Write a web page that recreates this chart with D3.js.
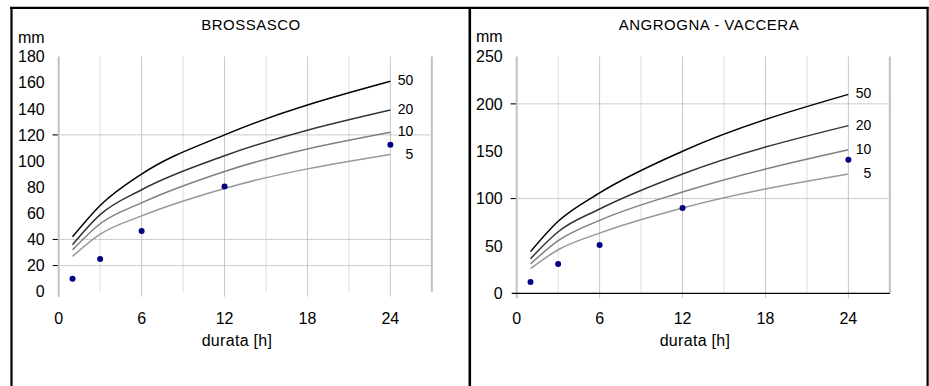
<!DOCTYPE html>
<html>
<head>
<meta charset="utf-8">
<script src="https://cdn.jsdelivr.net/npm/d3@7"></script>
<style>
  body { margin: 0; background: #fff; }
  svg { display: block; font-family: "Liberation Sans", Arial, sans-serif; }
</style>
</head>
<body>
<div id="chart"></div>
<script>
// durations [h]
const durations = [1, 3, 6, 12, 24];
const returnPeriods = ["50", "20", "10", "5"];
const xTicks = [0, 6, 12, 18, 24];

// BROSSASCO
const brossascoCurves = {
  "50": [42, 66, 90, 120, 161],
  "20": [36, 59, 78, 104, 139],
  "10": [32, 52, 68, 92, 122],
  "5":  [27, 44, 58, 79, 105]
};
const brossascoObs = [10, 25, 46.5, 80.5, 112.5];
const brossascoYTicks = [0, 20, 40, 60, 80, 100, 120, 140, 160, 180];
const brossascoYGrid = [20, 40, 120];

// ANGROGNA - VACCERA
const angrognaCurves = {
  "50": [44, 76, 106, 150, 210],
  "20": [36.5, 65, 89, 126, 177],
  "10": [31, 55.5, 77, 107, 151.5],
  "5":  [26, 46, 63.5, 90, 126]
};
const angrognaObs = [12, 31, 51, 90, 141];
const angrognaYTicks = [0, 50, 100, 150, 200, 250];
const angrognaYGrid = [100, 200];

const width = 929, height = 386;
const svg = d3.select("#chart").append("svg")
  .attr("width", width)
  .attr("height", height);

const lineColor = { "50": "#000", "20": "#333", "10": "#808080", "5": "#999" };

function drawPanel(opt) {
  const g = svg.append("g");
  const x = d3.scaleLinear().domain([0, 27]).range([opt.x0, opt.x0 + 27 * 13.82]);
  const y = d3.scaleLinear().domain([0, opt.yMax]).range([opt.yBottom, 56.5]);

  // vertical grid: minor dotted, major solid
  g.selectAll(".vminor")
    .data([3, 9, 15, 21])
    .join("line")
    .attr("x1", d => x(d)).attr("x2", d => x(d))
    .attr("y1", y(opt.yMax)).attr("y2", y(0))
    .attr("stroke", "#bbb").attr("stroke-dasharray", "1,1");

  g.selectAll(".vmajor")
    .data([6, 12, 18, 24])
    .join("line")
    .attr("x1", d => x(d)).attr("x2", d => x(d))
    .attr("y1", y(opt.yMax)).attr("y2", y(0) + 5)
    .attr("stroke", "#c8c8c8");

  // horizontal dotted grid
  g.selectAll(".hgrid")
    .data(opt.yGrid)
    .join("line")
    .attr("x1", x(0) - 6).attr("x2", x(27))
    .attr("y1", d => y(d)).attr("y2", d => y(d))
    .attr("stroke", "#999").attr("stroke-dasharray", "1,1");
  g.selectAll(".htick")
    .data(opt.yGrid)
    .join("line")
    .attr("x1", x(0) - 6).attr("x2", x(0))
    .attr("y1", d => y(d)).attr("y2", d => y(d))
    .attr("stroke", "#000");

  // y axis and right edge (thick gray)
  g.append("line")
    .attr("x1", x(0)).attr("x2", x(0))
    .attr("y1", y(opt.yMax)).attr("y2", y(0) + 5)
    .attr("stroke", "#c0c0c0").attr("stroke-width", 2);
  g.append("line")
    .attr("x1", x(27)).attr("x2", x(27))
    .attr("y1", y(opt.yMax)).attr("y2", y(0))
    .attr("stroke", "#c0c0c0").attr("stroke-width", 2);

  if (opt.xAxisLine) {
    g.append("line")
      .attr("x1", x(0) - 5).attr("x2", x(27))
      .attr("y1", y(0)).attr("y2", y(0))
      .attr("stroke", "#000").attr("stroke-width", 1.2);
  }

  // y tick labels
  g.selectAll(".ylab")
    .data(opt.yTicks)
    .join("text")
    .attr("x", x(0) - 14)
    .attr("y", d => y(d))
    .attr("dy", "0.36em")
    .attr("text-anchor", "end")
    .style("font-size", "16px")
    .text(d => d);

  // x tick labels
  g.selectAll(".xlab")
    .data(xTicks)
    .join("text")
    .attr("x", d => x(d))
    .attr("y", 318)
    .attr("dy", "0.36em")
    .attr("text-anchor", "middle")
    .style("font-size", "16px")
    .text(d => d);

  g.append("text")
    .attr("x", x(12.9))
    .attr("y", 340)
    .attr("dy", "0.36em")
    .attr("text-anchor", "middle")
    .style("font-size", "16px")
    .style("letter-spacing", "0.3px")
    .text("durata [h]");

  g.append("text")
    .attr("x", opt.titleX)
    .attr("y", 25)
    .attr("dy", "0.36em")
    .attr("text-anchor", "middle")
    .style("font-size", "15px")
    .style("letter-spacing", "0.5px")
    .text(opt.title);

  g.append("text")
    .attr("x", opt.mmX)
    .attr("y", opt.mmY)
    .attr("dy", "0.36em")
    .style("font-size", "16px")
    .text("mm");

  // curves
  const line = d3.line()
    .x((d, i) => x(durations[i]))
    .y(d => y(d))
    .curve(d3.curveMonotoneX);

  returnPeriods.forEach(rp => {
    const vals = opt.curves[rp];
    g.append("path")
      .attr("d", line(vals))
      .attr("fill", "none")
      .attr("stroke", lineColor[rp])
      .attr("stroke-width", 1.5);
    g.append("text")
      .attr("x", x(24) + 23)
      .attr("y", y(vals[vals.length - 1]) - 1)
      .attr("dy", "0.36em")
      .attr("text-anchor", "end")
      .style("font-size", "14px")
      .text(rp);
  });

  // observed points
  g.selectAll(".obs")
    .data(opt.obs)
    .join("circle")
    .attr("cx", (d, i) => x(durations[i]))
    .attr("cy", d => y(d))
    .attr("r", 3)
    .attr("fill", "#000080");
}

drawPanel({
  x0: 58.7, yBottom: 291.7, yMax: 180,
  yTicks: brossascoYTicks, yGrid: brossascoYGrid,
  curves: brossascoCurves, obs: brossascoObs,
  title: "BROSSASCO", titleX: 251, mmX: 18, mmY: 37.5,
  xAxisLine: false
});

drawPanel({
  x0: 516.7, yBottom: 293.3, yMax: 250,
  yTicks: angrognaYTicks, yGrid: angrognaYGrid,
  curves: angrognaCurves, obs: angrognaObs,
  title: "ANGROGNA - VACCERA", titleX: 709, mmX: 476, mmY: 36.5,
  xAxisLine: true
});

// frame
const frame = svg.append("g").attr("stroke", "#000").attr("stroke-width", 2.2);
frame.append("line").attr("x1", 10).attr("x2", 928.5).attr("y1", 7.8).attr("y2", 7.8);
frame.append("line").attr("x1", 11.5).attr("x2", 11.5).attr("y1", 7).attr("y2", height);
frame.append("line").attr("x1", 469.8).attr("x2", 469.8).attr("y1", 7).attr("y2", height).attr("stroke-width", 2.6);
frame.append("line").attr("x1", 927.6).attr("x2", 927.6).attr("y1", 7).attr("y2", height);
</script>
</body>
</html>
